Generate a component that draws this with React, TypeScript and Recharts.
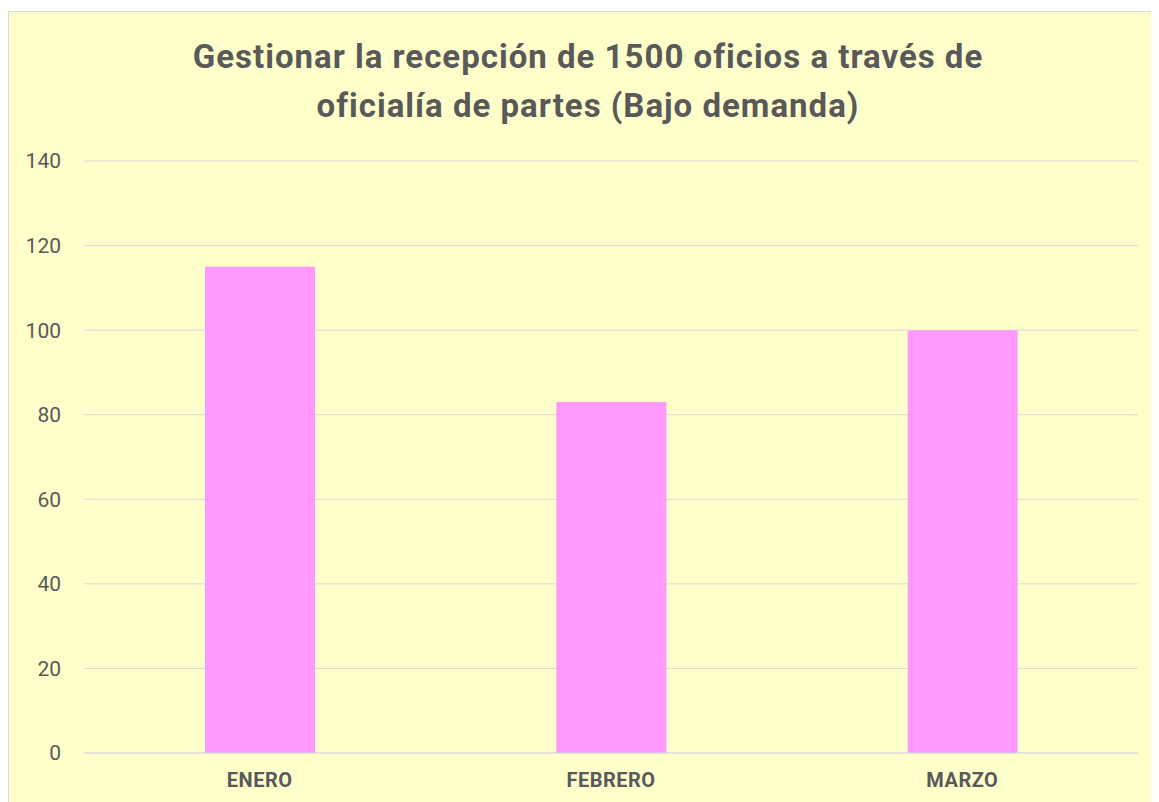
import { Bar, BarChart, CartesianGrid, XAxis, YAxis } from "recharts";

const months = ["ENERO", "FEBRERO", "MARZO"];
const oficios = [115, 83, 100];
const yTicks = [0, 20, 40, 60, 80, 100, 120, 140];
const titleLines = [
  "Gestionar la recepción de 1500 oficios a través de",
  "oficialía de partes (Bajo demanda)",
];

const data = months.map((mes, i) => ({ mes, oficios: oficios[i] }));

const font = 'Roboto, "Noto Sans", sans-serif';

const App = () => {
  return (
    <div style={{ paddingTop: 3, fontFamily: font }}>
      <div
        style={{
          position: "relative",
          width: 1160,
          height: 800,
          background: "#FFFFCC",
          border: "1px solid #d9d9d9",
          overflow: "hidden",
        }}
      >
        {titleLines.map((line, i) => (
          <div
            key={i}
            style={{
              position: "absolute",
              left: 0,
              width: 1158,
              top: 25 + i * 49,
              textAlign: "center",
              fontSize: 33,
              fontWeight: 700,
              letterSpacing: 1,
              color: "#595959",
              lineHeight: "40px",
            }}
          >
            {line}
          </div>
        ))}
        <BarChart
          width={1152}
          height={792}
          data={data}
          margin={{ top: 149, right: 23, left: 15, bottom: 11 }}
          barSize={110}
        >
          <CartesianGrid vertical={false} stroke="#d9d9d9" />
          <XAxis
            dataKey="mes"
            height={40}
            axisLine={{ stroke: "#d9d9d9" }}
            tickLine={false}
            tickSize={0}
            tickMargin={20}
            tick={{ fill: "#595959", fontSize: 20, fontWeight: 700, letterSpacing: 0.5, fontFamily: font }}
          />
          <YAxis
            width={60}
            domain={[0, 140]}
            ticks={yTicks}
            axisLine={false}
            tickLine={false}
            tickSize={21}
            tickMargin={2}
            tick={{ fill: "#595959", fontSize: 21, fontFamily: font }}
          />
          <Bar dataKey="oficios" fill="#FF99FF" isAnimationActive={false} />
        </BarChart>
      </div>
    </div>
  );
};

export default App;
